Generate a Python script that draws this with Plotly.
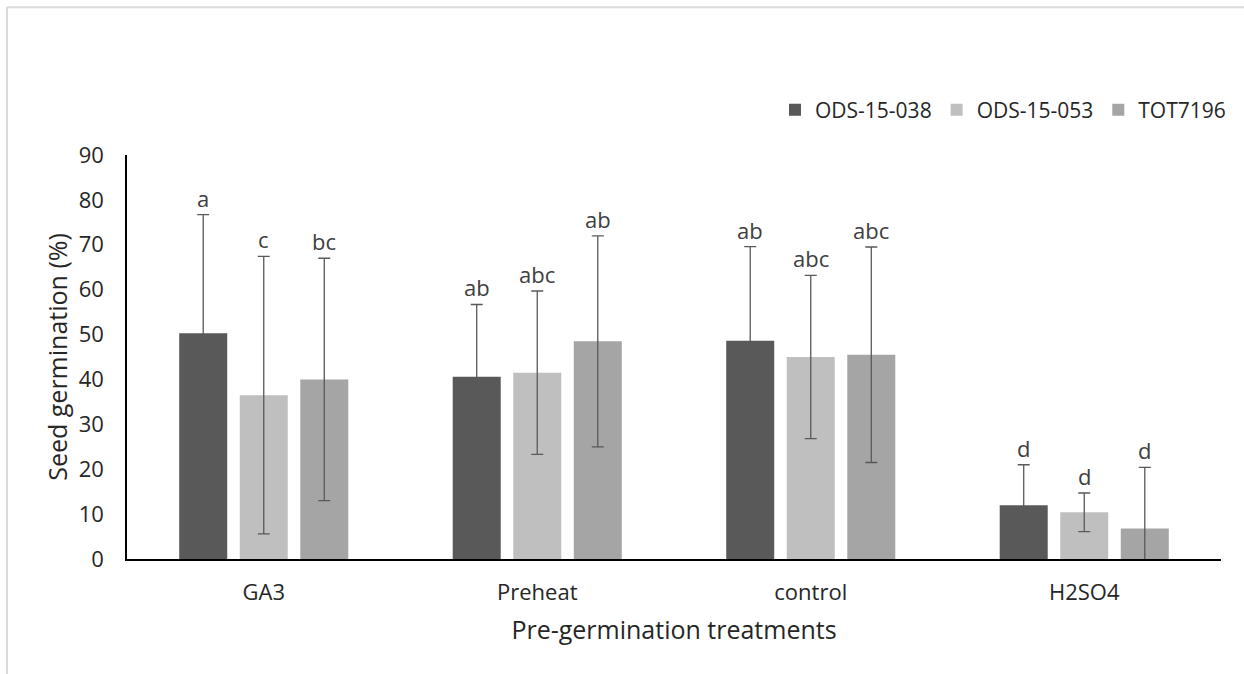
import plotly.graph_objects as go

# ---- data ----
treatments = ["GA3", "Preheat", "control", "H2SO4"]
series_names = ["ODS-15-038", "ODS-15-053", "TOT7196"]
ods038 = [50.3, 40.6, 48.6, 12.0]
ods038_err = [26.4, 16.1, 21.0, 9.0]
ods053 = [36.5, 41.5, 45.0, 10.4]
ods053_err = [30.9, 18.2, 18.2, 4.3]
tot7196 = [40.0, 48.5, 45.5, 6.8]
tot7196_err = [27.0, 23.5, 24.0, 13.6]
letters038 = ["a", "ab", "ab", "d"]
letters053 = ["c", "abc", "abc", "d"]
letters_tot = ["bc", "ab", "abc", "d"]
y_ticks = [0, 10, 20, 30, 40, 50, 60, 70, 80, 90]

values = [ods038, ods053, tot7196]
errors = [ods038_err, ods053_err, tot7196_err]
letters = [letters038, letters053, letters_tot]
colors = ["#595959", "#bfbfbf", "#a5a5a5"]

FONT = "Open Sans"
BARGAP = 0.336
GROUPGAP = 0.207

fig = go.Figure()
for name, vals, errs, col in zip(series_names, values, errors, colors):
    fig.add_trace(go.Bar(
        x=treatments, y=vals, name=name,
        marker=dict(color=col, line=dict(width=0)),
        error_y=dict(type="data", array=errs, visible=True,
                     color="#595959", thickness=1.3, width=6),
    ))

slot = (1 - BARGAP) / 3
annotations = []
for k, (vals, errs, labs) in enumerate(zip(values, errors, letters)):
    for i, (v, e, lab) in enumerate(zip(vals, errs, labs)):
        annotations.append(dict(
            x=i + (k - 1) * slot, y=v + e, xref="x", yref="y",
            text=lab, showarrow=False, yanchor="bottom", xanchor="center",
            font=dict(family=FONT, size=22, color="#404040"),
        ))

# plot-area geometry (pixels)
L, R, T, B = 127, 1221, 155, 559.5
W, H = 1244, 674
def px(x):
    return (x - L) / (R - L)
def py(y):
    return (B - y) / (B - T)

shapes = [
    dict(type="line", xref="paper", yref="paper", x0=px(7), x1=px(1250), y0=py(7), y1=py(7),
         line=dict(color="#d9d9d9", width=2)),
    dict(type="line", xref="paper", yref="paper", x0=px(7), x1=px(7), y0=py(7), y1=py(680),
         line=dict(color="#d9d9d9", width=2)),
]

fig.update_layout(
    width=W, height=H, autosize=False,
    margin=dict(l=L, r=W - R, t=T, b=H - B, pad=0),
    paper_bgcolor="white", plot_bgcolor="white",
    barmode="group", bargap=BARGAP, bargroupgap=GROUPGAP,
    font=dict(family=FONT, color="#262626"),
    showlegend=True,
    legend=dict(orientation="h", x=px(775), y=py(110), xanchor="left", yanchor="middle",
                font=dict(family=FONT, size=21, color="#262626"),
                bgcolor="rgba(0,0,0,0)", traceorder="normal"),
    annotations=annotations,
    shapes=shapes,
    xaxis=dict(
        showline=True, linecolor="black", linewidth=2,
        showgrid=False, ticks="outside", ticklen=13, tickcolor="rgba(0,0,0,0)",
        tickfont=dict(family=FONT, size=22, color="#262626"),
        title=dict(text="Pre-germination treatments", standoff=16,
                   font=dict(family=FONT, size=25, color="#262626")),
    ),
    yaxis=dict(
        range=[0, 90], tickvals=y_ticks,
        showline=True, linecolor="black", linewidth=1.5,
        showgrid=False, zeroline=False, ticks="outside", ticklen=17,
        tickcolor="rgba(0,0,0,0)",
        tickfont=dict(family=FONT, size=22, color="#262626"),
        title=dict(text="Seed germination (%)", standoff=4,
                   font=dict(family=FONT, size=25, color="#262626")),
    ),
)

fig.write_html("out.html")
